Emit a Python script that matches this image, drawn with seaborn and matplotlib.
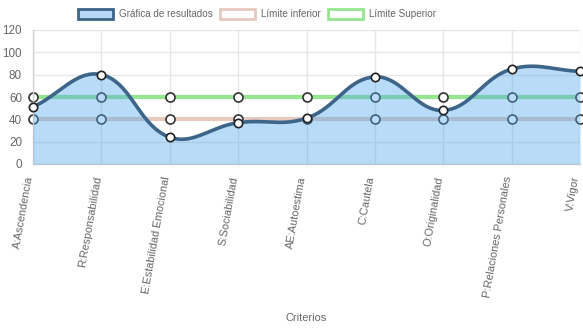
import numpy as np
import pandas as pd
import matplotlib
matplotlib.use("Agg")
import matplotlib.pyplot as plt
from matplotlib.patches import Patch
from matplotlib.transforms import ScaledTranslation
import seaborn as sns

# Data
criterios = ["A:Ascendencia", "R:Responsabilidad", "E:Estabilidad Emocional",
             "S:Sociabilidad", "AE:Autoestima", "C:Cautela", "O:Originalidad",
             "P:Relaciones Personales", "V:Vigor"]
resultados = [51, 80, 24, 37, 41, 78, 48, 85, 83]
limite_inferior = [40, 40, 40, 40, 40, 40, 40, 40, 40]
limite_superior = [60, 60, 60, 60, 60, 60, 60, 60, 60]
y_ticks = [0, 20, 40, 60, 80, 100, 120]

sns.set_theme(style="white")
plt.rcParams["font.family"] = ["Liberation Sans", "DejaVu Sans"]

TXT = "#666666"
GRID = "#e6e6e6"
LINE = "#3d6489"
FILL = (0.31, 0.65, 0.92, 0.40)
LOW = "#e6c9bf"
UP = "#95e68f"

fig = plt.figure(figsize=(5.83, 3.28), dpi=100)
ax = fig.add_axes([33 / 583, 1 - 164 / 328, (580 - 33) / 583, 134 / 328])

x = np.arange(len(criterios))
df = pd.DataFrame({"x": x, "res": resultados, "low": limite_inferior, "up": limite_superior})


def spline(xs, ys, sx, sy, t=0.4, n=40):
    """Cubic bezier through the points with tension-based control points."""
    px, py = np.asarray(xs, float) * sx, np.asarray(ys, float) * sy
    m = len(px)
    c_prev, c_next = [], []
    for i in range(m):
        p0 = (px[max(i - 1, 0)], py[max(i - 1, 0)])
        p1 = (px[i], py[i])
        p2 = (px[min(i + 1, m - 1)], py[min(i + 1, m - 1)])
        d01 = np.hypot(p1[0] - p0[0], p1[1] - p0[1])
        d12 = np.hypot(p2[0] - p1[0], p2[1] - p1[1])
        tot = d01 + d12
        s01 = d01 / tot if tot else 0
        s12 = d12 / tot if tot else 0
        fa, fb = t * s01, t * s12
        c_prev.append((p1[0] - fa * (p2[0] - p0[0]), p1[1] - fa * (p2[1] - p0[1])))
        c_next.append((p1[0] + fb * (p2[0] - p0[0]), p1[1] + fb * (p2[1] - p0[1])))
    outx, outy = [], []
    u = np.linspace(0, 1, n)
    for i in range(m - 1):
        P0 = np.array([px[i], py[i]])
        P1 = np.array(c_next[i])
        P2 = np.array(c_prev[i + 1])
        P3 = np.array([px[i + 1], py[i + 1]])
        pts = ((1 - u) ** 3)[:, None] * P0 + (3 * (1 - u) ** 2 * u)[:, None] * P1 \
            + (3 * (1 - u) * u ** 2)[:, None] * P2 + (u ** 3)[:, None] * P3
        outx.extend(pts[:, 0])
        outy.extend(pts[:, 1])
    return np.array(outx) / sx, np.array(outy) / sy


# Grid
ax.set_xlim(0, len(criterios) - 1)
ax.set_ylim(0, 120)
ax.set_yticks(y_ticks)
ax.set_xticks(x)
ax.grid(True, color=GRID, linewidth=1)
ax.set_axisbelow(True)

# Limit lines
marker_kw = dict(marker="o", markersize=6.5, markerfacecolor="white",
                 markeredgecolor="#333333", markeredgewidth=1.2)
sns.lineplot(data=df, x="x", y="low", ax=ax, color=LOW, linewidth=3,
             clip_on=False, zorder=2, **marker_kw)
sns.lineplot(data=df, x="x", y="up", ax=ax, color=UP, linewidth=3,
             clip_on=False, zorder=2, **marker_kw)

# Result curve with fill
cx, cy = spline(df["x"], df["res"], 68.4, 1.1217)
ax.fill_between(cx, 0, cy, color=FILL, linewidth=0, zorder=3)
ax.plot(cx, cy, color=LINE, linewidth=2.6, zorder=4, solid_capstyle="round")
sns.scatterplot(data=df, x="x", y="res", ax=ax, s=36, color="white",
                edgecolor="#222222", linewidth=1.2, zorder=5, clip_on=False)

# Axes styling
for s in ["top", "right"]:
    ax.spines[s].set_visible(False)
for s in ["left", "bottom"]:
    ax.spines[s].set_color("#d0d0d0")
    ax.spines[s].set_linewidth(1)
ax.set_xticklabels(criterios, rotation=80, ha="right", va="center",
                   rotation_mode="anchor", fontsize=7.9, color=TXT)
ax.tick_params(axis="x", length=8, color=GRID, pad=1)
ax.tick_params(axis="y", length=6, color=GRID, labelsize=8.4, labelcolor=TXT, pad=2)
ax.set_ylabel("")
ax.set_xlabel("Criterios", fontsize=7.9, color=TXT)
ax.xaxis.set_label_coords(0.5, -1.11)

# Legend
handles = [Patch(facecolor="#b6d8f6", edgecolor=LINE, linewidth=2),
           Patch(facecolor="white", edgecolor=LOW, linewidth=2),
           Patch(facecolor="white", edgecolor=UP, linewidth=2)]
labels = ["Gráfica de resultados", "Límite inferior", "Límite Superior"]
fig.legend(handles, labels, loc="center", bbox_to_anchor=(257 / 583, 1 - 14 / 328),
           ncol=3, frameon=False, fontsize=7.1, labelcolor=TXT,
           handlelength=3.5, handleheight=1.15, handletextpad=0.6,
           columnspacing=0.8)

# Nudge rotated category labels slightly left so the last one stays on the canvas
fig.canvas.draw()
shift = ScaledTranslation(-3.5 / 100, 0, fig.dpi_scale_trans)
for tick in ax.xaxis.get_major_ticks():
    tick.label1.set_transform(tick.label1.get_transform() + shift)

fig.savefig("out.png", dpi=100)
